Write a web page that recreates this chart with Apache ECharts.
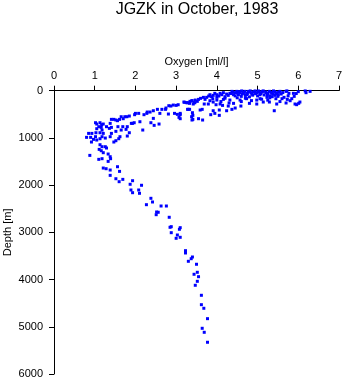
<!DOCTYPE html>
<html>
<head>
<meta charset="utf-8">
<script src="https://cdn.jsdelivr.net/npm/echarts@6/dist/echarts.min.js"></script>
<style>html,body{margin:0;padding:0;background:#fff;}#c{width:345px;height:384px;}</style>
</head>
<body>
<div id="c"></div>
<script>
var titleText = "JGZK in October, 1983";
var xName = "Oxygen [ml/l]";
var yName = "Depth [m]";
var xTicks = [0,1,2,3,4,5,6,7];
var yTicks = [0,1000,2000,3000,4000,5000,6000];

// Oxygen values [ml/l]
var oxygen = [
3.21,3.28,3.34,3.39,3.46,3.42,3.55,3.60,3.67,3.71,3.75,3.80,3.83,3.87,3.91,3.95,4.00,4.05,4.08,4.12,
4.16,4.20,4.24,4.28,4.32,4.37,4.41,4.45,4.49,4.53,4.57,4.61,4.65,4.69,4.73,4.77,4.82,4.86,4.90,4.94,
4.98,5.02,5.06,5.10,5.14,5.21,5.24,5.29,5.35,5.39,5.43,5.47,5.51,5.55,5.60,5.65,5.70,5.73,5.77,5.80,
5.84,5.88,5.92,5.96,6.01,6.04,6.17,6.19,6.29,5.41,5.72,3.33,3.19,3.10,3.10,3.41,3.39,3.55,3.65,3.59,
3.64,3.28,3.85,3.91,3.95,4.06,4.06,4.24,4.28,4.37,4.45,4.59,4.80,4.98,5.14,5.29,5.47,4.41,4.08,4.14,
3.79,3.91,3.98,3.69,4.98,5.06,5.23,5.36,4.57,4.73,4.32,4.16,4.00,3.83,
4.35,4.40,4.45,4.50,4.55,4.60,4.62,4.67,4.70,4.75,4.78,4.80,4.84,4.88,4.92,4.95,5.00,5.04,5.08,5.12,
5.16,5.20,5.25,5.30,5.33,5.38,5.42,5.45,5.50,5.52,5.58,5.62,5.30,5.45,4.50,4.70,4.20,4.00,3.90,4.10,
4.30,4.60,4.85,5.10,5.25,5.55,5.70,5.75,5.90,5.95,6.00,
3.26,3.33,3.39,3.44,3.47,3.52,3.40,3.38,3.41,3.30,3.10,3.07,3.03,2.93,3.00,3.05,2.96,2.87,2.82,2.81,
2.75,2.74,2.65,2.54,2.60,2.58,2.44,2.36,2.29,2.28,2.44,2.46,2.38,2.21,2.18,2.11,2.08,2.00,1.98,1.97,
1.93,1.90,1.85,1.79,1.74,1.70,1.65,1.61,1.56,1.52,1.47,1.41,1.38,1.80,1.80,1.85,1.77,1.69,1.65,1.57,
1.52,1.41,1.36,1.29,1.21,1.17,1.13,1.05,1.02,1.10,1.16,1.05,1.18,1.21,1.18,1.13,1.03,1.02,0.93,0.85,
0.80,0.90,0.97,1.05,1.13,1.26,1.38,1.41,1.47,1.52,1.59,1.62,0.92,1.13,1.18,1.26,1.29,1.11,1.16,1.21,
1.33,1.38,1.39,1.33,1.18,1.10,0.88,1.21,1.28,1.38,1.56,1.61,1.38,1.52,1.69,1.93,
1.60,1.87,2.15,1.89,1.93,2.08,2.10,2.38,2.42,2.27,2.63,2.76,2.52,2.56,2.51,2.83,2.88,2.85,3.10,3.08,
2.88,3.03,3.00,3.10,3.23,3.23,3.40,3.37,3.30,3.50,3.52,3.44,3.55,3.52,3.47,3.62,3.62,3.68,3.77,3.64,
3.69,3.77
];

// Depth values [m]
var depth = [
247,254,226,212,254,282,184,162,141,184,141,113,85,127,99,56,85,113,56,85,
42,127,71,99,56,14,85,42,14,85,42,5,56,14,85,28,5,71,28,5,
42,5,85,28,5,42,85,14,56,5,99,42,85,14,169,141,14,184,56,212,
169,56,282,296,268,240,5,42,14,424,5,395,240,508,593,522,621,593,621,409,
395,395,508,424,480,522,409,424,325,395,367,325,268,282,240,240,282,268,282,311,
282,240,297,282,198,169,141,127,198,169,198,184,198,212,
60,30,110,50,20,120,70,35,100,60,15,130,45,95,20,65,110,30,60,15,
90,25,60,110,35,75,20,60,120,30,70,40,150,170,150,160,160,140,170,230,
260,230,210,180,200,230,260,110,120,60,20,
254,268,212,254,198,226,466,551,607,395,480,565,501,304,311,297,480,325,318,494,
367,395,395,395,480,706,424,452,452,480,586,734,678,508,833,657,480,480,508,678,
692,692,537,551,551,593,551,607,635,621,607,607,692,762,960,890,819,762,833,762,
861,777,798,762,706,720,678,706,678,762,777,805,833,904,974,890,890,974,904,904,
988,988,1031,1045,1017,1003,974,904,1087,1059,1017,974,1087,1144,1186,1186,1214,1243,1271,1313,
1341,1398,1440,1497,1440,1454,1370,1638,1652,1680,1610,1709,1793,1864,1878,1906,
1927,1982,2003,2103,2160,2103,2173,2279,2357,2414,2442,2442,2569,2575,2626,2681,2880,2893,2901,2935,
3007,3056,3126,3105,3388,3437,3522,3558,3613,3676,3846,3888,3939,4037,4121,4333,4532,4608,4828,5032,
5117,5328
];

var points = oxygen.map(function(o, i){ return [o, depth[i]]; });

var font = "'Liberation Sans', Arial, Helvetica, sans-serif";
var chart = echarts.init(document.getElementById('c'), null, {renderer: 'canvas'});
chart.setOption({
  animation: false,
  backgroundColor: '#ffffff',
  title: {
    text: titleText,
    left: 197,
    textAlign: 'center',
    top: 2,
    padding: 0,
    textStyle: {fontFamily: font, fontSize: 16, fontWeight: 'normal', color: '#000'}
  },
  grid: {left: 54, right: 6, top: 90.7, bottom: 10, containLabel: false, outerBoundsMode: 'none'},
  xAxis: {
    type: 'value',
    position: 'top',
    min: 0, max: 7, interval: 1,
    name: xName,
    nameLocation: 'middle',
    nameGap: 23,
    nameMoveOverlap: false,
    nameTextStyle: {fontFamily: font, fontSize: 11, color: '#000'},
    axisLine: {show: true, onZero: false, lineStyle: {color: '#000', width: 1}},
    axisTick: {show: true, length: 5, inside: false, lineStyle: {color: '#000'}},
    axisLabel: {margin: 9, fontFamily: font, fontSize: 11, color: '#000',
      formatter: function(v){ return String(v); }},
    splitLine: {show: false}
  },
  yAxis: {
    type: 'value',
    inverse: true,
    min: 0, max: 6000, interval: 1000,
    name: yName,
    nameLocation: 'middle',
    nameGap: 41,
    nameMoveOverlap: false,
    nameTextStyle: {fontFamily: font, fontSize: 11, color: '#000'},
    axisLine: {show: true, onZero: false, lineStyle: {color: '#000', width: 1}},
    axisTick: {show: true, length: 5, lineStyle: {color: '#000'}},
    axisLabel: {margin: 11, fontFamily: font, fontSize: 11, color: '#000',
      formatter: function(v){ return String(v); }},
    splitLine: {show: false}
  },
  series: [{
    type: 'scatter',
    data: points,
    symbol: 'rect',
    symbolSize: 3,
    itemStyle: {color: '#0000ff', opacity: 1},
    silent: true
  }]
});
</script>
</body>
</html>
